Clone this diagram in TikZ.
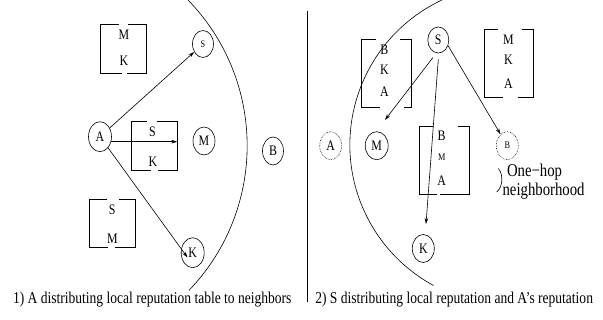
\documentclass[tikz,border=0pt]{standalone}
\usepackage{fontspec}
\setmainfont{Liberation Serif}[FakeStretch=0.82]
\usetikzlibrary{arrows.meta,shapes.geometric}
\newcommand\brbox[8]{% xl xr yt yb tl tr bl br
  \draw (#5,#3) -- (#1,#3) -- (#1,#4) -- (#7,#4);
  \draw (#6,#3) -- (#2,#3) -- (#2,#4) -- (#8,#4);}
\begin{document}
\begin{tikzpicture}[x=1pt,y=-1pt,line width=0.6pt,
  nd/.style={ellipse,draw,inner sep=0pt,font=\fontsize{14.5}{14.5}\selectfont},
  dnd/.style={nd,densely dotted},
  lbl/.style={inner sep=0pt,font=\fontsize{14.5}{14.5}\selectfont},
  slbl/.style={inner sep=0pt,font=\fontsize{10}{10}\selectfont},
  arr/.style={-{Stealth[length=6pt,width=3.6pt]}},
  captiontext/.style={inner sep=0pt,anchor=base west,font=\fontsize{16.5}{18}\selectfont},
  bigtext/.style={inner sep=0pt,anchor=base west,font=\fontsize{18}{18}\selectfont}]
\useasboundingbox (0,0) rectangle (603,320);

% ---------- left panel ----------
\draw (188,0) arc[start angle=44.2,end angle=-43.8,radius=209pt];

\brbox{100.5}{146}{24.3}{73.3}{119}{128}{121.5}{126.5}
\node[lbl] (t1m) at (124,35) {M};
\node[lbl] (t1k) at (124,61) {K};

\brbox{131.7}{177.3}{121.7}{170}{146.7}{156.7}{150.7}{158.3}
\node[lbl] (t2s) at (152.5,131.7) {S};
\node[lbl] (t2k) at (153,161.5) {K};

\brbox{89}{135}{199.3}{247.7}{107}{119.3}{108.3}{115}
\node[lbl] (t3s) at (112.3,209.3) {S};
\node[lbl] (t3m) at (112.5,238.5) {M};

\node[nd,minimum width=21pt,minimum height=27pt,font=\fontsize{10}{10}\selectfont] (S1) at (203,44) {S};
\node[nd,minimum width=23pt,minimum height=30pt] (A1) at (100,136.7) {A};
\node[nd,minimum width=22pt,minimum height=28pt] (M1) at (204,141) {M};
\node[nd,minimum width=21pt,minimum height=28pt] (B1) at (273,151) {B};
\node[nd,minimum width=23pt,minimum height=30pt] (K1) at (192.7,252.7) {K};

\draw[arr] (A1) -- (S1);
\coordinate (skend) at (177.3,141.7);
\draw[arr] (A1.-20 |- skend) -- (skend);
\coordinate (kin) at (187.5,257.5);
\draw[arr] (A1) -- (kin);

\node[captiontext] (cap1) at (12.7,304) {1) A distributing local reputation table to neighbors};

% ---------- divider ----------
\coordinate (vtop) at (307,11);
\coordinate (vbot) at (307,302);
\draw (vtop) -- (vbot);

% ---------- right panel ----------
\draw (442,0) arc[start angle=115.1,end angle=241.5,radius=160pt];

\brbox{361.7}{411}{39.3}{107.3}{376}{400}{380}{404}
\node[lbl] (u1b) at (384.3,49.3) {B};
\node[lbl] (u1k) at (384.3,69.3) {K};
\node[lbl] (u1a) at (384.3,91.7) {A};

\brbox{484.3}{533.3}{29.3}{97.3}{498.3}{521.7}{503.3}{518.3}
\node[lbl] (u2m) at (508.3,39.3) {M};
\node[lbl] (u2k) at (508.3,59.3) {K};
\node[lbl] (u2a) at (508.3,83.3) {A};

\brbox{419}{469}{126.7}{194}{433.3}{458.3}{436.7}{440}
\node[lbl] (u3b) at (441.7,135.7) {B};
\node[slbl] (u3m) at (441.7,157.3) {M};
\node[lbl] (u3a) at (441.7,181) {A};

\node[dnd,minimum width=22pt,minimum height=28pt] (A2) at (330.7,145.7) {A};
\node[nd,minimum width=23pt,minimum height=28pt] (M2) at (376.7,145.7) {M};
\node[nd,minimum width=21pt,minimum height=26pt] (S2) at (438.3,40) {S};
\node[dnd,minimum width=22pt,minimum height=28pt,font=\fontsize{10}{10}\selectfont] (B2) at (507.3,145.7) {B};
\node[nd,minimum width=22pt,minimum height=28pt] (K2) at (423.3,248.5) {K};

\coordinate (mtip) at (385,120);
\draw[arr] ([yshift=-6pt]S2.-115) -- (mtip);
\coordinate (ktip) at (426,224);
\draw[arr] ([yshift=-6pt]S2.south) -- (ktip);
\draw[arr] (S2.-30) -- (B2);

\draw (498.3,168.5) .. controls (503.5,174) and (503,187) .. (496.7,192);
\node[bigtext] (oh) at (506.7,176.5) {One−hop};
\node[bigtext] (nb) at (502.3,195.5) {neighborhood};

\node[captiontext] (cap2) at (315,304) {2) S distributing local reputation and A’s reputation};
\end{tikzpicture}
\end{document}
